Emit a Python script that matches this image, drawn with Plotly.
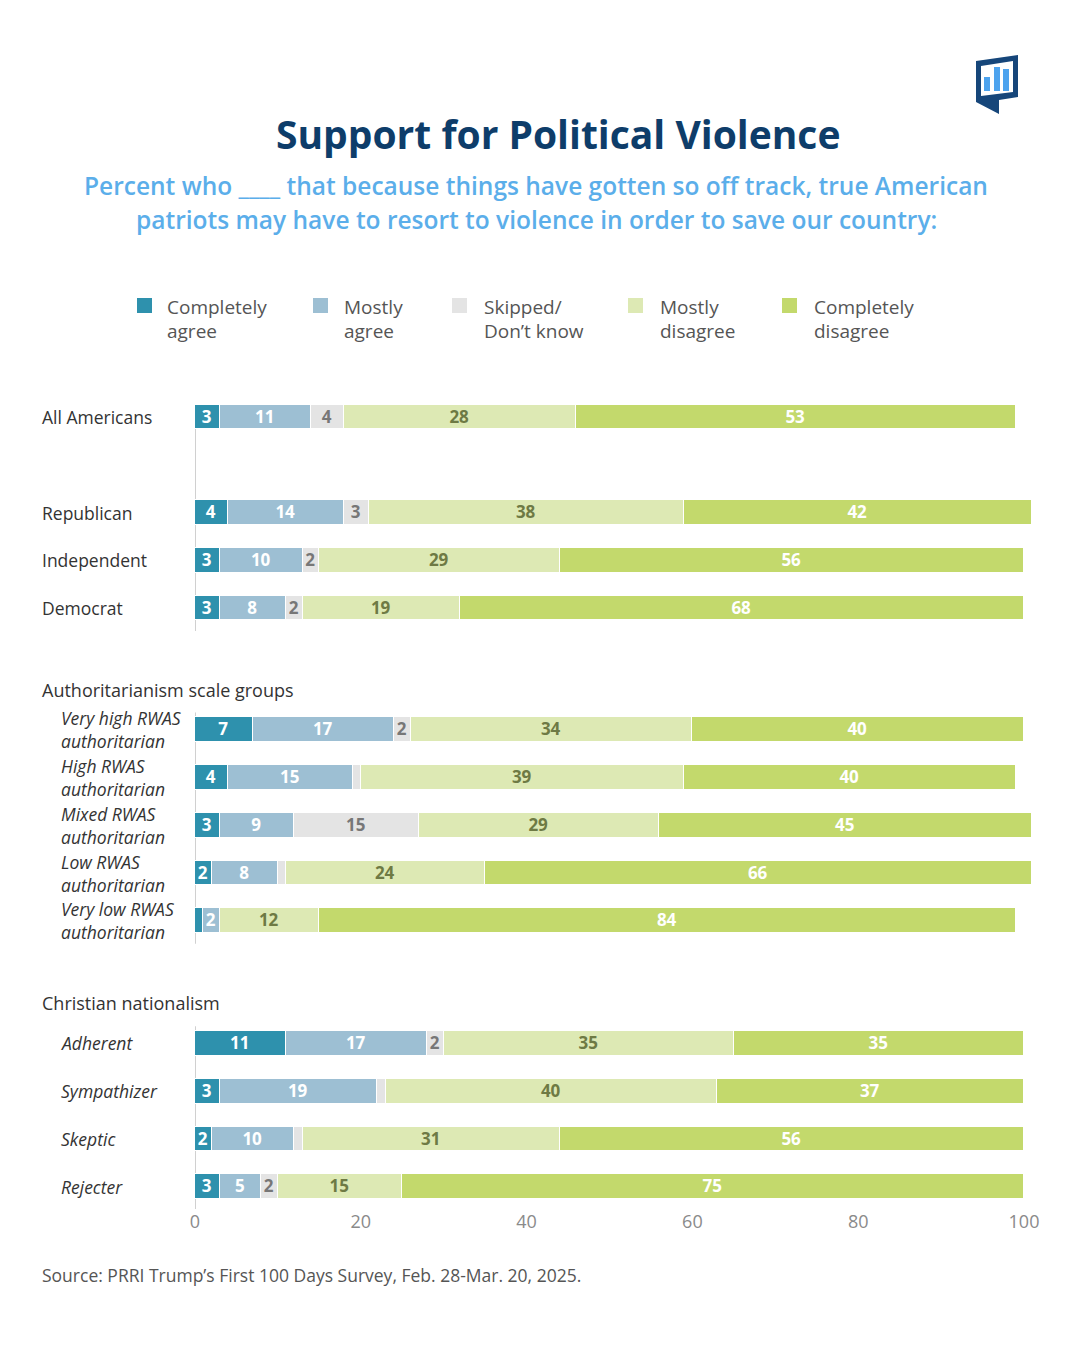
import plotly.graph_objects as go

# ---------------- data ----------------
rows = ["All Americans", "Republican", "Independent", "Democrat",
        "Very high RWAS authoritarian", "High RWAS authoritarian", "Mixed RWAS authoritarian",
        "Low RWAS authoritarian", "Very low RWAS authoritarian",
        "Adherent", "Sympathizer", "Skeptic", "Rejecter"]
label_lines = [["All Americans"], ["Republican"], ["Independent"], ["Democrat"],
               ["Very high RWAS", "authoritarian"], ["High RWAS", "authoritarian"],
               ["Mixed RWAS", "authoritarian"], ["Low RWAS", "authoritarian"],
               ["Very low RWAS", "authoritarian"],
               ["Adherent"], ["Sympathizer"], ["Skeptic"], ["Rejecter"]]
italic = [False, False, False, False, True, True, True, True, True, True, True, True, True]

completely_agree = [3, 4, 3, 3, 7, 4, 3, 2, 1, 11, 3, 2, 3]
mostly_agree = [11, 14, 10, 8, 17, 15, 9, 8, 2, 17, 19, 10, 5]
skipped = [4, 3, 2, 2, 2, 1, 15, 1, 0, 2, 1, 1, 2]
mostly_disagree = [28, 38, 29, 19, 34, 39, 29, 24, 12, 35, 40, 31, 15]
completely_disagree = [53, 42, 56, 68, 40, 40, 45, 66, 84, 35, 37, 56, 75]

series_names = ["Completely agree", "Mostly agree", "Skipped/ Don’t know", "Mostly disagree", "Completely disagree"]
legend_lines = [["Completely", "agree"], ["Mostly", "agree"], ["Skipped/", "Don’t know"],
                ["Mostly", "disagree"], ["Completely", "disagree"]]
series_values = [completely_agree, mostly_agree, skipped, mostly_disagree, completely_disagree]

groups = [("", [0]), ("", [1, 2, 3]), ("Authoritarianism scale groups", [4, 5, 6, 7, 8]),
          ("Christian nationalism", [9, 10, 11, 12])]

x_ticks = [0, 20, 40, 60, 80, 100]

title = "Support for Political Violence"
subtitle_lines = ["Percent who ____ that because things have gotten so off track, true American",
                  "patriots may have to resort to violence in order to save our country:"]
source = "Source: PRRI Trump’s First 100 Days Survey, Feb. 28-Mar. 20, 2025."

# ---------------- style ----------------
colors = ["#2E91AD", "#9DBFD3", "#E4E4E4", "#DDE9B4", "#C3D96C"]
text_colors = ["#FFFFFF", "#FFFFFF", "#777777", "#6E7A44", "#FFFFFF"]
FONT = "Open Sans"

OFF = 8  # page body margin
W, H = 1080 - OFF, 1350 - OFF
X0_PX, X100_PX = 195, 1024          # reference pixels of 0 and 100 on the x axis
X_END_PX = 1045                     # right edge of plot area (room for bars > 100)
L, R, T, B = X0_PX - OFF, X_END_PX - OFF, 395 - OFF, 1209 - OFF
X_MAX = 100 * (X_END_PX - X0_PX) / (X100_PX - X0_PX)
ROW = 47.75

# row slots (layout positions in row units)
slot = [0, 2, 3, 4, 6.55, 7.55, 8.55, 9.55, 10.55, 13.12, 14.12, 15.12, 16.12]
y_top = (395 - 417) / ROW
y_bot = (1209 - 417) / ROW


def px(x):  # reference-screen x -> paper
    return (x - OFF - L) / (R - L)


def py(y):  # reference-screen y -> paper
    return (B - (y - OFF)) / (B - T)


fig = go.Figure()
for name, vals, col, tcol in zip(series_names, series_values, colors, text_colors):
    fig.add_trace(go.Bar(
        y=slot, x=vals, orientation="h", name=name,
        marker=dict(color=col, line=dict(color="white", width=1.5)),
        width=0.52,
        text=[str(v) if v >= 2 else "" for v in vals],
        textposition="inside", insidetextanchor="middle", textangle=0,
        textfont=dict(family=FONT, size=17, color=tcol, weight="bold"),
        hoverinfo="skip", showlegend=False,
    ))

annotations = []
shapes = []

# row labels
for i, lines in enumerate(label_lines):
    xpos = px(59) if italic[i] else px(40)
    style = "italic" if italic[i] else "normal"
    annotations.append(dict(x=xpos, y=slot[i], xref="paper", yref="y", text="<br>".join(lines),
                            showarrow=False, xanchor="left", yanchor="middle", align="left",
                            font=dict(family=FONT, size=17.5, color="#333333", style=style)))

# group headers and axis line segments
segs = [(0, 3), (4, 8), (9, 12)]
for a, b in segs:
    y0 = slot[a] - (0.25 if a == 0 else 0.36)
    y1 = y_bot if b == 12 else slot[b] + 0.48
    shapes.append(dict(type="line", xref="x", yref="y", x0=0, x1=0, y0=y0, y1=y1,
                       line=dict(color="#D0D0D0", width=2), layer="below"))
for hdr, idx in groups:
    if hdr:
        annotations.append(dict(x=px(40), y=slot[idx[0]] - 0.84, xref="paper", yref="y", text=hdr,
                                showarrow=False, xanchor="left", yanchor="middle",
                                font=dict(family=FONT, size=18, color="#333333")))

# title / subtitle
annotations.append(dict(x=px(558), y=py(133), xref="paper", yref="paper", text="<b>" + title + "</b>",
                        showarrow=False, xanchor="center", yanchor="middle",
                        font=dict(family=FONT, size=39, color="#0E3D6A")))
for k, ln in enumerate(subtitle_lines):
    annotations.append(dict(x=px(536), y=py(185 + 34 * k), xref="paper", yref="paper", text=ln,
                            showarrow=False, xanchor="center", yanchor="middle",
                            font=dict(family=FONT, size=24.5, color="#5BAEEA", weight=600)))

# legend
leg_sq_x = [137, 313, 452, 628, 782]
leg_tx_x = [165, 342, 482, 658, 812]
for sx, tx, col, lines in zip(leg_sq_x, leg_tx_x, colors, legend_lines):
    shapes.append(dict(type="rect", xref="paper", yref="paper",
                       x0=px(sx), x1=px(sx + 15), y0=py(313), y1=py(298),
                       fillcolor=col, line=dict(width=0)))
    for k, ln in enumerate(lines):
        annotations.append(dict(x=px(tx), y=py(307 + 24 * k), xref="paper", yref="paper", text=ln,
                                showarrow=False, xanchor="left", yanchor="middle",
                                font=dict(family=FONT, size=19, color="#555555")))

# source
annotations.append(dict(x=px(40), y=py(1275), xref="paper", yref="paper", text=source,
                        showarrow=False, xanchor="left", yanchor="middle",
                        font=dict(family=FONT, size=17.5, color="#555555")))

# logo
shapes.append(dict(type="path", xref="paper", yref="paper",
                   path=f"M {px(976)} {py(61)} L {px(1018)} {py(55)} L {px(1018)} {py(97)} "
                        f"L {px(999)} {py(100)} L {px(999)} {py(114)} L {px(976)} {py(102)} Z",
                   fillcolor="#16467A", line=dict(width=0)))
shapes.append(dict(type="path", xref="paper", yref="paper",
                   path=f"M {px(981)} {py(66)} L {px(1013)} {py(61)} L {px(1013)} {py(92)} "
                        f"L {px(981)} {py(96)} Z",
                   fillcolor="white", line=dict(width=0)))
for bx0, btop in [(984, 77), (994, 67), (1003, 69)]:
    shapes.append(dict(type="rect", xref="paper", yref="paper",
                       x0=px(bx0), x1=px(bx0 + 6), y0=py(91), y1=py(btop),
                       fillcolor="#4DA3EE", line=dict(width=0)))

fig.update_layout(
    width=W, height=H,
    margin=dict(l=L, r=W - R, t=T, b=H - B),
    paper_bgcolor="white", plot_bgcolor="white",
    barmode="stack", bargap=0,
    uniformtext=dict(minsize=17, mode="show"),
    xaxis=dict(range=[0, X_MAX], tickvals=x_ticks, ticktext=[str(t) for t in x_ticks],
               showgrid=False, zeroline=False, showline=False, ticks="",
               tickfont=dict(family=FONT, size=18, color="#8A8A8A"), fixedrange=True),
    yaxis=dict(range=[y_bot, y_top], showticklabels=False, showgrid=False, zeroline=False,
               showline=False, ticks="", fixedrange=True),
    annotations=annotations, shapes=shapes,
    font=dict(family=FONT),
)

fig.write_html("out.html")
